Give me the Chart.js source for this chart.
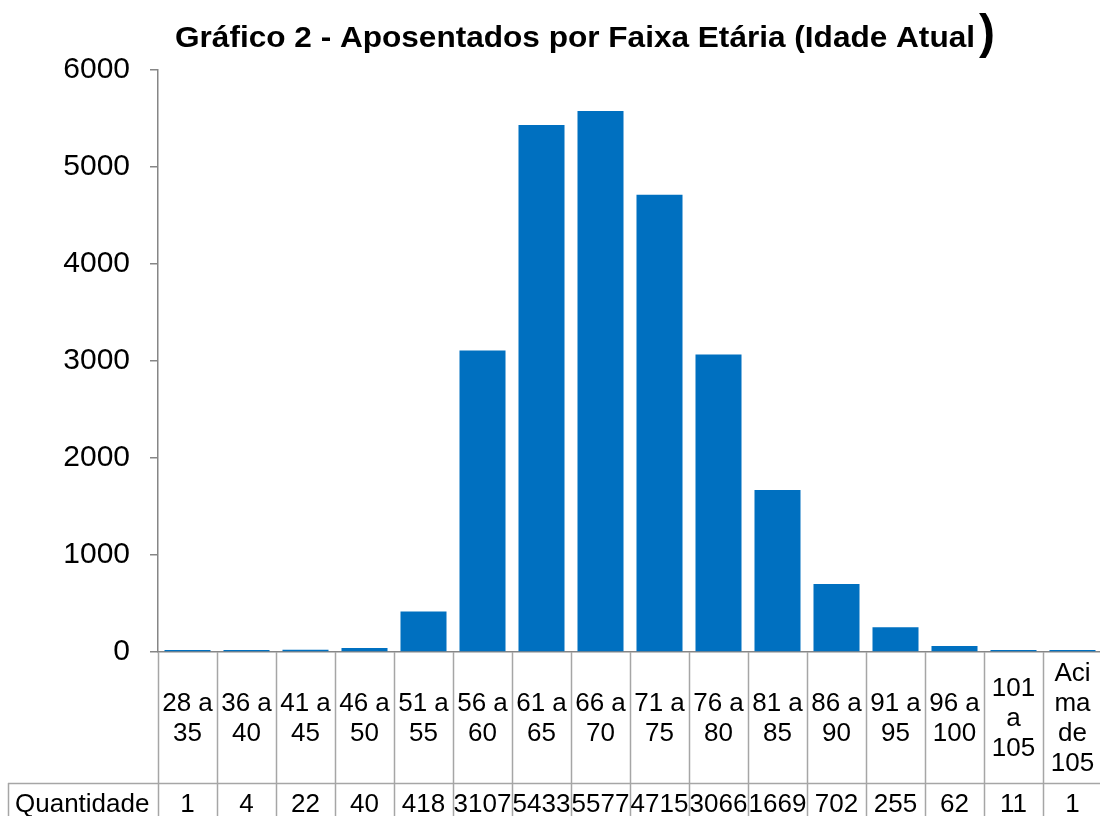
<!DOCTYPE html>
<html>
<head>
<meta charset="utf-8">
<script src="https://cdn.jsdelivr.net/npm/chart.js@4.4.1/dist/chart.umd.min.js"></script>
<style>
    html, body { margin: 0; padding: 0; overflow: hidden; background: #fff; }
    #wrap { width: 1104px; height: 816px; }
</style>
</head>
<body>
<div id="wrap"><canvas id="grafico" width="1104" height="816"></canvas></div>
<script>
// Dados do gráfico
const faixas = [
    ['28 a', '35'], ['36 a', '40'], ['41 a', '45'], ['46 a', '50'],
    ['51 a', '55'], ['56 a', '60'], ['61 a', '65'], ['66 a', '70'],
    ['71 a', '75'], ['76 a', '80'], ['81 a', '85'], ['86 a', '90'],
    ['91 a', '95'], ['96 a', '100'], ['101', 'a', '105'], ['Aci', 'ma', 'de', '105']
];
const quantidade = [1, 4, 22, 40, 418, 3107, 5433, 5577, 4715, 3066, 1669, 702, 255, 62, 11, 1];
const eixoY = { min: 0, max: 6000, passo: 1000 };
const titulo = 'Gráfico 2 - Aposentados por Faixa Etária (Idade Atual';
const rotuloLinha = 'Quantidade';

const FONTE = '"Liberation Sans", Arial, sans-serif';
const COR_LINHA = '#A6A6A6';

// Título desenhado à mão (com o parêntese grande no final)
const tituloPlugin = {
    id: 'tituloManual',
    afterDraw(chart) {
        const ctx = chart.ctx;
        ctx.save();
        ctx.fillStyle = '#000';
        ctx.font = 'bold 30px ' + FONTE;
        ctx.textBaseline = 'alphabetic';
        const w = ctx.measureText(titulo).width;
        const escala = 800 / w;
        ctx.translate(175, 47);
        ctx.scale(escala, 1);
        ctx.fillText(titulo, 0, 0);
        ctx.restore();

        ctx.save();
        ctx.fillStyle = '#000';
        ctx.font = 'bold 48px ' + FONTE;
        ctx.fillText(')', 979, 48);
        ctx.restore();
    }
};

// Tabela de dados abaixo do eixo
const tabelaPlugin = {
    id: 'tabela',
    afterDraw(chart) {
        const { ctx, chartArea, scales: { x } } = chart;
        const topo = chartArea.bottom;
        const linhaValores = 783;
        const fim = chart.height;
        const larg = x.getPixelForValue(1) - x.getPixelForValue(0);

        ctx.save();
        ctx.strokeStyle = COR_LINHA;
        ctx.lineWidth = 1.5;
        ctx.beginPath();
        for (let i = 0; i <= faixas.length; i++) {
            const px = Math.round(x.getPixelForValue(i) - larg / 2) + 0.5;
            ctx.moveTo(px, topo);
            ctx.lineTo(px, fim);
        }
        ctx.moveTo(8, linhaValores + 0.5);
        ctx.lineTo(chart.width, linhaValores + 0.5);
        ctx.moveTo(8.5, linhaValores);
        ctx.lineTo(8.5, fim);
        ctx.stroke();

        ctx.fillStyle = '#000';
        ctx.font = '26px ' + FONTE;
        ctx.textAlign = 'center';
        ctx.textBaseline = 'middle';
        const centro = (topo + linhaValores) / 2 + 1;
        faixas.forEach((linhas, i) => {
            const cx = x.getPixelForValue(i);
            linhas.forEach((t, j) => {
                ctx.fillText(t, cx, centro + (j - (linhas.length - 1) / 2) * 30);
            });
        });

        ctx.textBaseline = 'alphabetic';
        quantidade.forEach((v, i) => {
            ctx.fillText(String(v), x.getPixelForValue(i), 812);
        });
        ctx.textAlign = 'left';
        ctx.fillText(rotuloLinha, 15, 812);
        ctx.restore();
    }
};

new Chart(document.getElementById('grafico'), {
    type: 'bar',
    data: {
        labels: faixas,
        datasets: [{
            label: rotuloLinha,
            data: quantidade,
            backgroundColor: '#0070C0',
            borderWidth: 0,
            barPercentage: 0.78,
            categoryPercentage: 1,
            minBarLength: 2
        }]
    },
    options: {
        responsive: false,
        animation: false,
        devicePixelRatio: 1,
        layout: { padding: { top: 70, right: 2, left: 0, bottom: 0 } },
        plugins: {
            legend: { display: false },
            title: { display: false },
            tooltip: { enabled: false }
        },
        scales: {
            x: {
                ticks: { display: false },
                grid: { display: false },
                border: { display: true, color: '#868686', width: 1.5 },
                afterFit(scale) { scale.height = 164; }
            },
            y: {
                min: eixoY.min,
                max: eixoY.max,
                ticks: {
                    stepSize: eixoY.passo,
                    padding: 20,
                    color: '#000',
                    font: { family: FONTE, size: 30 },
                    callback: (v) => String(v)
                },
                grid: {
                    drawOnChartArea: false,
                    drawTicks: true,
                    tickLength: 8,
                    color: '#868686',
                    lineWidth: 1.5
                },
                border: { display: true, color: '#868686', width: 1.5 },
                afterFit(scale) { scale.width = 158; }
            }
        }
    },
    plugins: [tituloPlugin, tabelaPlugin]
});
</script>
</body>
</html>
